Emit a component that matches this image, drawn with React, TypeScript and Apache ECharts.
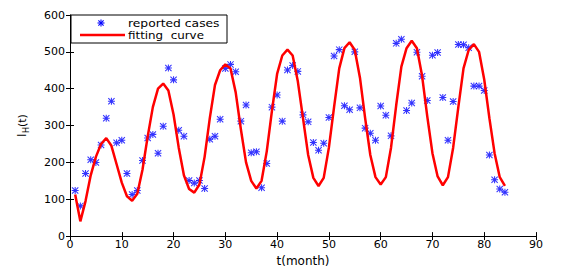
import React, { useEffect, useRef } from "react";
import * as echarts from "echarts";

const months: number[] = Array.from({ length: 84 }, (_, i) => i + 1);

const reportedCases: number[] = [
  124, 82, 170, 207, 200, 247, 320, 366, 253, 260, 170, 113,
  124, 205, 266, 276, 225, 298, 456, 424, 287, 271, 151, 144,
  151, 129, 263, 271, 317, 455, 466, 446, 312, 356, 226, 229,
  131, 197, 350, 383, 312, 451, 463, 447, 329, 310, 254, 233,
  252, 322, 489, 506, 354, 343, 500, 348, 293, 279, 260, 353,
  328, 272, 523, 534, 341, 361, 499, 434, 368, 491, 498, 376,
  260, 365, 520, 519, 511, 407, 407, 395, 220, 153, 128, 119,
];

const fittingCurve: number[] = [
  113, 40, 95, 165, 215, 250, 266, 245, 195, 145, 108, 96,
  115, 180, 270, 350, 400, 414, 395, 330, 240, 165, 128, 118,
  140, 215, 320, 410, 450, 466, 455, 390, 290, 200, 150, 129,
  150, 230, 340, 440, 490, 506, 490, 420, 320, 220, 158, 136,
  158, 240, 350, 455, 510, 526, 505, 430, 320, 220, 160, 140,
  160, 240, 355, 460, 510, 530, 510, 435, 325, 225, 162, 138,
  160, 240, 350, 455, 505, 521, 500, 425, 320, 225, 160, 136,
];

const xTicks = { min: 0, max: 90, interval: 10 };
const yTicks = { min: 0, max: 600, interval: 100 };

const ASTERISK =
  "path://M0,8.5 L20,8.5 L20,11.5 L0,11.5 Z M8.5,0 L11.5,0 L11.5,20 L8.5,20 Z M0,2.1 L2.1,0 L20,17.9 L17.9,20 Z M17.9,0 L20,2.1 L2.1,20 L0,17.9 Z";

const FONT = "DejaVu Sans, Liberation Sans, Arial, sans-serif";

export default function App() {
  const ref = useRef<HTMLDivElement>(null);
  useEffect(() => {
    if (!ref.current) return;
    const chart = echarts.init(ref.current, undefined, { renderer: "svg" });
    const axisCommon = {
      axisLine: { show: true, lineStyle: { color: "#000", width: 1 } },
      axisTick: { show: true, inside: true, length: 4, lineStyle: { color: "#000" } },
      splitLine: { show: false },
    };
    const star = (x1: number, y1: number, x2: number, y2: number) => ({
      type: "line",
      z: 102,
      shape: { x1: 101 + x1, y1: 23 + y1, x2: 101 + x2, y2: 23 + y2 },
      style: { stroke: "#0000ff", lineWidth: 1.1 },
    });
    chart.setOption({
      animation: false,
      backgroundColor: "#fff",
      grid: { left: 70, right: 28, top: 15, bottom: 32, containLabel: false },
      xAxis: [
        {
          type: "value",
          ...xTicks,
          ...axisCommon,
          position: "bottom",
          axisLabel: { color: "#000", fontSize: 11, fontFamily: FONT, margin: 3 },
          name: "t(month)",
          nameLocation: "middle",
          nameGap: 16,
          nameTextStyle: { color: "#000", fontSize: 12, fontFamily: FONT },
        },
        {
          type: "value",
          ...xTicks,
          ...axisCommon,
          position: "top",
          axisLabel: { show: false },
        },
      ],
      yAxis: [
        {
          type: "value",
          ...yTicks,
          ...axisCommon,
          position: "left",
          axisLabel: { color: "#000", fontSize: 11, fontFamily: FONT, margin: 5 },
        },
        {
          type: "value",
          ...yTicks,
          ...axisCommon,
          position: "right",
          axisLabel: { show: false },
        },
      ],
      series: [
        {
          type: "scatter",
          name: "reported cases",
          xAxisIndex: 0,
          yAxisIndex: 0,
          data: months.map((m, i) => [m, reportedCases[i]]),
          symbol: ASTERISK,
          symbolSize: 7,
          itemStyle: { color: "#0000ff" },
        },
        {
          type: "line",
          name: "fitting curve",
          xAxisIndex: 0,
          yAxisIndex: 0,
          data: months.map((m, i) => [m, fittingCurve[i]]),
          showSymbol: false,
          symbol: "none",
          lineStyle: { color: "#ff0000", width: 2.5 },
          itemStyle: { color: "#ff0000" },
        },
      ],
      graphic: [
        {
          type: "rect",
          shape: { x: 71, y: 15, width: 156, height: 28 },
          style: { fill: "#fff", stroke: "#000", lineWidth: 1 },
          z: 100,
        },
        star(-3.5, 0, 3.5, 0),
        star(0, -3.5, 0, 3.5),
        star(-2.6, -2.6, 2.6, 2.6),
        star(-2.6, 2.6, 2.6, -2.6),
        {
          type: "text",
          x: 128,
          y: 23,
          z: 101,
          scaleX: 1.12,
          style: { text: "reported cases", fill: "#000", fontSize: 11, lineHeight: 11, fontFamily: FONT, verticalAlign: "middle" },
        },
        {
          type: "line",
          z: 101,
          shape: { x1: 80, y1: 35, x2: 125, y2: 35 },
          style: { stroke: "#ff0000", lineWidth: 2.5 },
        },
        {
          type: "text",
          x: 128,
          y: 35,
          z: 101,
          scaleX: 1.08,
          style: { text: "fitting  curve", fill: "#000", fontSize: 11, lineHeight: 11, fontFamily: FONT, verticalAlign: "middle" },
        },
        {
          type: "group",
          x: 22,
          y: 127,
          rotation: Math.PI / 2,
          children: [
            { type: "text", x: -10, y: 0, style: { text: "I", fill: "#000", fontSize: 12, fontFamily: FONT, verticalAlign: "middle", align: "left" } },
            { type: "text", x: -6, y: 4, style: { text: "H", fill: "#000", fontSize: 8, fontFamily: FONT, verticalAlign: "middle", align: "left" } },
            { type: "text", x: 0, y: 0, style: { text: "(t)", fill: "#000", fontSize: 11, fontFamily: FONT, verticalAlign: "middle", align: "left" } },
          ],
        },
      ],
    });
    return () => chart.dispose();
  }, []);
  return <div ref={ref} style={{ width: 564, height: 272, position: "absolute", left: 0, top: 0 }} />;
}
